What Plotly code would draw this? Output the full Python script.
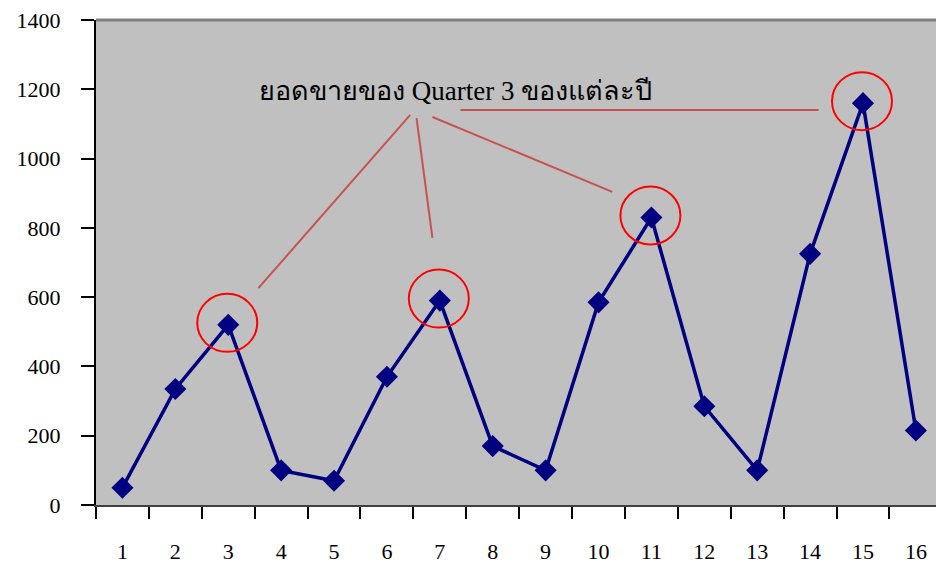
import plotly.graph_objects as go

# Quarterly sales, 16 consecutive quarters
quarters = [str(i) for i in range(1, 17)]
sales = [50, 335, 520, 100, 70, 370, 590, 170, 100, 585, 830, 285, 100, 725, 1160, 215]

# Third quarter of each year gets highlighted
q3_quarters = ["3", "7", "11", "15"]
q3_sales = [520, 590, 830, 1160]

y_ticks = [0, 200, 400, 600, 800, 1000, 1200, 1400]

note_text = "ยอดขายของ Quarter 3 ของแต่ละปี"

navy = "#000080"
callout_red = "rgba(200,70,70,0.9)"

fig = go.Figure()
fig.add_trace(go.Scatter(
    x=quarters, y=sales, mode="lines+markers",
    line=dict(color=navy, width=3.5),
    marker=dict(symbol="diamond", size=17, color=navy),
    hoverinfo="x+y", showlegend=False,
))

# red rings around the Q3 points (pixel-sized, anchored on the data point)
for q, s in zip(q3_quarters, q3_sales):
    idx = quarters.index(q)
    fig.add_shape(
        type="circle", xref="x", yref="y",
        xsizemode="pixel", ysizemode="pixel",
        xanchor=idx, yanchor=s,
        x0=-31, x1=29, y0=-27, y1=31,
        line=dict(color="red", width=2),
    )

# callout leader lines from the caption to each highlighted point
leaders = [
    ((2.57, 626), (5.44, 1126)),
    ((5.56, 1117), (5.86, 771)),
    ((5.86, 1120), (9.26, 904)),
    ((6.39, 1140), (13.16, 1140)),
]
for (xa, ya), (xb, yb) in leaders:
    fig.add_shape(type="line", xref="x", yref="y", x0=xa, y0=ya, x1=xb, y1=yb,
                  line=dict(color=callout_red, width=2))

fig.add_annotation(
    x=6.3, y=1195, xref="x", yref="y", text=note_text, showarrow=False,
    font=dict(family="Liberation Serif, Times New Roman, serif", size=27, color="black"),
)

# top border of the plot area
fig.add_shape(type="line", xref="paper", yref="paper", x0=0, x1=1, y0=1, y1=1,
              line=dict(color="#808080", width=3))

fig.update_layout(
    width=936, height=569,
    margin=dict(l=96, r=0, t=20, b=64),
    paper_bgcolor="white", plot_bgcolor="#c0c0c0",
    font=dict(family="Liberation Serif, Times New Roman, serif", size=22, color="black"),
)
fig.update_xaxes(
    type="category", range=[-0.5, 15.38],
    tickson="boundaries", ticks="outside", ticklen=12, tickwidth=1.5, tickcolor="black",
    showline=True, linecolor="#404040", linewidth=2,
    showgrid=False, zeroline=False, ticklabelstandoff=26,
)
fig.update_yaxes(
    range=[0, 1400], tickvals=y_ticks,
    ticks="outside", ticklen=13, tickwidth=1.5, tickcolor="black",
    showline=True, linecolor="black", linewidth=2,
    showgrid=False, zeroline=False, ticklabelstandoff=16,
)

fig.write_html("out.html")
